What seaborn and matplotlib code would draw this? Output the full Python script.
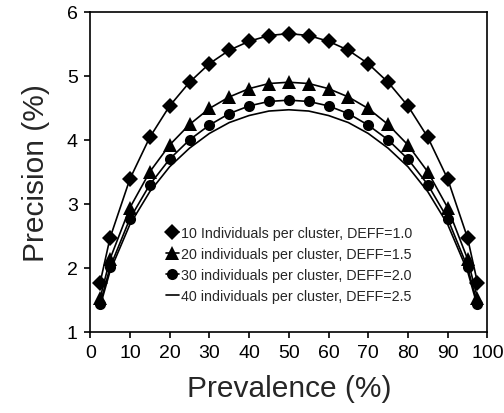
import pandas as pd
import matplotlib
matplotlib.use('Agg')
import matplotlib.pyplot as plt
import seaborn as sns

prevalence = [2.5, 5, 10, 15, 20, 25, 30, 35, 40, 45, 50,
              55, 60, 65, 70, 75, 80, 85, 90, 95, 97.5]

# precision (%), one list per cluster size
prec_10 = [1.77, 2.47, 3.39, 4.04, 4.53, 4.90, 5.19, 5.40, 5.54, 5.63, 5.66,
           5.63, 5.54, 5.40, 5.19, 4.90, 4.53, 4.04, 3.39, 2.47, 1.77]
prec_20 = [1.53, 2.14, 2.94, 3.50, 3.92, 4.24, 4.49, 4.67, 4.80, 4.88, 4.90,
           4.88, 4.80, 4.67, 4.49, 4.24, 3.92, 3.50, 2.94, 2.14, 1.53]
prec_30 = [1.44, 2.01, 2.77, 3.30, 3.70, 4.00, 4.23, 4.41, 4.53, 4.60, 4.62,
           4.60, 4.53, 4.41, 4.23, 4.00, 3.70, 3.30, 2.77, 2.01, 1.44]
prec_40 = [1.40, 1.95, 2.68, 3.19, 3.58, 3.87, 4.10, 4.27, 4.38, 4.45, 4.47,
           4.45, 4.38, 4.27, 4.10, 3.87, 3.58, 3.19, 2.68, 1.95, 1.40]

labels = ['10 Individuals per cluster, DEFF=1.0',
          '20 individuals per cluster, DEFF=1.5',
          '30 individuals per cluster, DEFF=2.0',
          '40 individuals per cluster, DEFF=2.5']
markers = ['D', '^', 'o', None]
msizes = [8.5, 9.5, 8, 0]

sns.set_style('ticks')
plt.rcParams['font.family'] = ['Liberation Sans', 'DejaVu Sans']

fig = plt.figure(figsize=(5.04, 4.14), dpi=100)
ax = fig.add_axes([0.179, 0.196, 0.788, 0.773])

for vals, lab, mk, ms in zip([prec_10, prec_20, prec_30, prec_40], labels, markers, msizes):
    df = pd.DataFrame({'prevalence': prevalence, 'precision': vals})
    sns.lineplot(data=df, x='prevalence', y='precision', ax=ax, color='black',
                 linewidth=1.2, marker=mk, markersize=ms, markeredgewidth=0,
                 markerfacecolor='black', label=lab)

ax.set_xlim(0, 100)
ax.set_ylim(1, 6)
ax.set_xticks(range(0, 101, 10))
ax.set_yticks(range(1, 7))
for side in ['top', 'right', 'left', 'bottom']:
    ax.spines[side].set_visible(True)
    ax.spines[side].set_linewidth(1.2)
    ax.spines[side].set_color('black')
ax.tick_params(direction='out', length=4, width=1.2, labelsize=14, colors='black', pad=5)
ax.set_xlabel('Prevalence (%)', fontsize=21.5, labelpad=9)
ax.set_ylabel('Precision (%)', fontsize=21.5, labelpad=12)

ax.legend(loc='upper left', bbox_to_anchor=(0.19, 0.332), frameon=False, fontsize=10.3,
          handlelength=0.9, handletextpad=0.2, labelspacing=0.5,
          borderpad=0, borderaxespad=0)

fig.savefig('out.png', dpi=100)
